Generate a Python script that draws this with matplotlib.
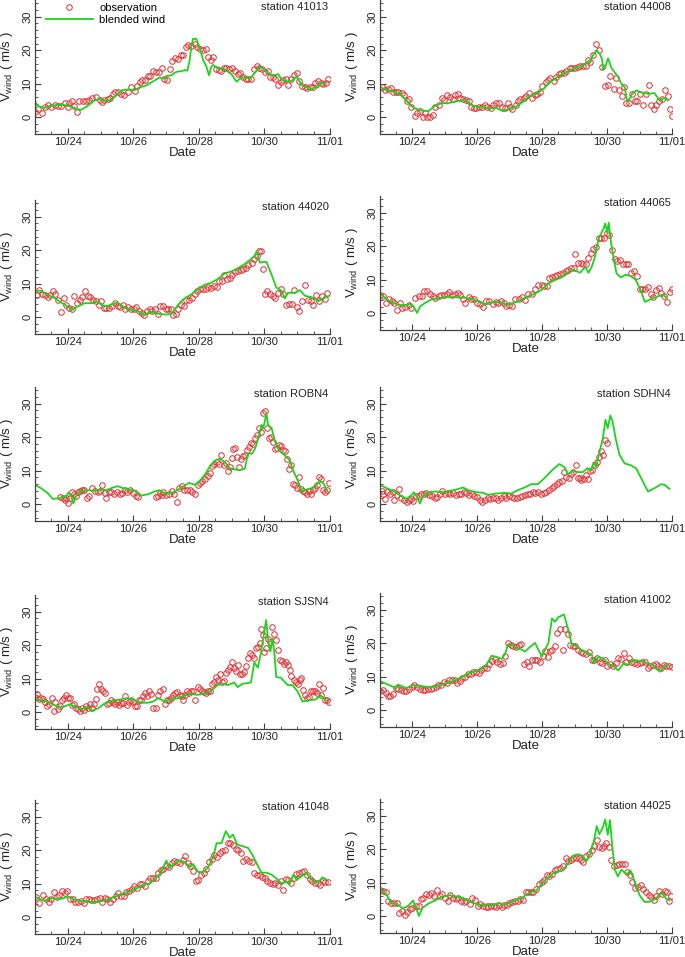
import numpy as np
import matplotlib
matplotlib.use('Agg')
from matplotlib import pyplot as plt
from matplotlib.ticker import MultipleLocator

plt.rcParams['font.family'] = ['Liberation Sans', 'DejaVu Sans']
plt.rcParams['mathtext.fontset'] = 'custom'
plt.rcParams['mathtext.rm'] = 'Liberation Sans'
plt.rcParams['mathtext.it'] = 'Liberation Sans:italic'

# time is in days after 10/23 00:00
date_ticks = [1, 3, 5, 7, 9]
date_labels = ['10/24', '10/26', '10/28', '10/30', '11/01']

'''
station 41013
'''
obs_t_41013 = [0, 0.1, 0.2, 0.3, 0.4, 0.5, 0.6, 0.7, 0.8, 0.9,
               1.0, 1.05, 1.13, 1.2, 1.27, 1.35, 1.45, 1.55, 1.66, 1.75,
               1.86, 1.97, 2.03, 2.12, 2.22, 2.3, 2.37, 2.45, 2.53, 2.63,
               2.73, 2.83, 2.94, 3.04, 3.12, 3.19, 3.27, 3.35, 3.45, 3.52,
               3.6, 3.68, 3.78, 3.86, 3.94, 4.03, 4.11, 4.19, 4.27, 4.35,
               4.44, 4.52, 4.6, 4.67, 4.75, 4.87, 4.95, 5.03, 5.13, 5.21,
               5.28, 5.36, 5.43, 5.51, 5.6, 5.68, 5.76, 5.84, 5.92, 6.0,
               6.1, 6.18, 6.25, 6.35, 6.43, 6.5, 6.6, 6.68, 6.76, 6.84,
               6.93, 7.01, 7.1, 7.17, 7.25, 7.33, 7.41, 7.49, 7.57, 7.65,
               7.73, 7.81, 7.9, 7.98, 8.06, 8.14, 8.23, 8.31, 8.39, 8.47,
               8.55, 8.64, 8.72, 8.8, 8.88, 8.95]
obs_v_41013 = [1.7, 2.4, 1.4, 3, 3.8, 3.2, 3.7, 3.4, 3.4, 4.2,
               3.2, 4.2, 4.8, 3.4, 1.6, 4.9, 4.9, 5, 5.2, 5.6,
               6, 5.2, 4.6, 5.2, 5.4, 5.8, 6.9, 7.5, 7.5, 7,
               6.7, 7.5, 9.1, 7.9, 9.3, 10.5, 11.1, 11.1, 12.3, 12.3,
               13.7, 13.5, 13.5, 14.7, 11.3, 11, 14.3, 16.7, 17.8, 17.3,
               18.5, 18.5, 21.1, 21.5, 21.3, 22, 21, 20.5, 20, 20.5,
               18, 17, 18, 14.5, 14.1, 13.9, 14.8, 14.8, 14.3, 14.7,
               13.9, 12.9, 13.1, 12.1, 11.5, 11.5, 11.3, 14.5, 15.3, 14.6,
               14.3, 13.6, 13.9, 11.9, 11.9, 11.5, 9.7, 10.4, 11.1, 11.5,
               9.7, 11.3, 12.5, 13.1, 10.7, 9.4, 8.9, 8.7, 8.9, 9.1,
               10.1, 10.7, 10.1, 9.9, 10.3, 11.5]
mod_t_41013 = [0, 0.08, 0.29, 0.49, 0.7, 0.9, 1.1, 1.3, 1.4, 1.61,
               1.81, 1.97, 2.12, 2.27, 2.42, 2.63, 2.83, 3.04, 3.19, 3.39,
               3.6, 3.8, 3.92, 4.0, 4.16, 4.26, 4.37, 4.46, 4.57, 4.65,
               4.72, 4.77, 4.82, 4.92, 5.03, 5.13, 5.23, 5.31, 5.38, 5.43,
               5.59, 5.74, 5.84, 5.99, 6.15, 6.25, 6.4, 6.55, 6.71, 6.84,
               6.96, 7.12, 7.27, 7.42, 7.52, 7.68, 7.83, 7.98, 8.14, 8.29,
               8.39, 8.54, 8.64, 8.7, 8.85]
mod_v_41013 = [4.7, 3.4, 2.8, 3.4, 3.7, 3.6, 3.2, 2.4, 2.2, 3.4,
               5, 5.6, 5, 5, 6, 8, 8.3, 8.1, 8.9, 9.5,
               10.7, 11.9, 11.5, 12.3, 12.5, 13.3, 13.7, 13.7, 14.1, 13.9,
               17.1, 21.1, 23.4, 23.4, 20.5, 17.1, 15.1, 12.5, 15.1, 15.6,
               14.6, 14.6, 13.9, 12.9, 10.6, 11.5, 12.1, 11.5, 13.3, 15.1,
               14.6, 13.3, 12.3, 12.9, 11.3, 10.7, 10.9, 12.1, 9.6, 8.9,
               8.1, 8.9, 8.9, 10.1, 10.1]

'''
station 44008
'''
obs_t_44008 = [0.05, 0.15, 0.26, 0.33, 0.41, 0.49, 0.56, 0.67, 0.74, 0.82,
               0.9, 0.97, 1.08, 1.15, 1.23, 1.31, 1.38, 1.46, 1.54, 1.62,
               1.7, 1.81, 1.9, 1.98, 2.07, 2.15, 2.24, 2.32, 2.41, 2.48,
               2.56, 2.65, 2.73, 2.82, 2.89, 2.97, 3.06, 3.14, 3.23, 3.31,
               3.41, 3.49, 3.57, 3.67, 3.75, 3.85, 3.93, 4.0, 4.08, 4.18,
               4.26, 4.33, 4.43, 4.51, 4.59, 4.67, 4.77, 4.84, 4.92, 5.0,
               5.11, 5.18, 5.25, 5.35, 5.44, 5.52, 5.59, 5.66, 5.74, 5.85,
               5.93, 6.0, 6.1, 6.17, 6.26, 6.34, 6.41, 6.48, 6.58, 6.67,
               6.75, 6.85, 6.92, 7.03, 7.1, 7.2, 7.28, 7.36, 7.45, 7.51,
               7.59, 7.69, 7.77, 7.85, 7.93, 8.02, 8.1, 8.2, 8.29, 8.36,
               8.44, 8.51, 8.59, 8.68, 8.77, 8.87, 8.95, 8.99]
obs_v_44008 = [9, 8, 8.4, 8.6, 7.6, 7.4, 7.6, 7.2, 6.6, 4.8,
               5.4, 3.2, 0.5, 1.3, 2, 0.2, 1.2, 0, 0.2, 0.8,
               3, 3.6, 5.8, 5.2, 6.6, 6, 5.4, 6.6, 6.8, 5.8,
               5.4, 5.2, 5, 3, 2.8, 2.8, 3.2, 3, 3.6, 3.2,
               2.8, 3.6, 4.4, 4.2, 3, 2.8, 4.2, 3.2, 2.4, 3.8,
               4.8, 5.3, 5.8, 6.4, 7.2, 5.8, 6.6, 7, 7.6, 9.2,
               10.4, 11.2, 11.6, 10.8, 12, 12.8, 13.3, 13.2, 13.8, 14.6,
               14.8, 14.8, 15, 15.4, 15.2, 15.3, 17.2, 16.4, 18.6, 21.8,
               20, 15, 9.2, 9.6, 12.4, 8.4, 11.6, 8, 6.3, 9,
               4.3, 4.3, 6.8, 4.8, 4.8, 6.8, 3.6, 6.8, 9.6, 3.6,
               2.6, 3.8, 4.8, 5.4, 8, 6.2, 2.4, 0.4]
mod_t_44008 = [0, 0.2, 0.41, 0.62, 0.82, 1.03, 1.28, 1.49, 1.69, 1.9,
               2.1, 2.36, 2.62, 2.87, 3.13, 3.38, 3.59, 3.79, 4.0, 4.2,
               4.41, 4.62, 4.82, 5.03, 5.23, 5.44, 5.64, 5.85, 6.05, 6.21,
               6.36, 6.46, 6.56, 6.67, 6.77, 6.85, 6.87, 6.95, 7.03, 7.13,
               7.23, 7.33, 7.44, 7.54, 7.62, 7.69, 7.77, 7.9, 8.05, 8.26,
               8.46, 8.62, 8.77, 8.87]
mod_v_44008 = [9, 8.2, 7.6, 7, 4.8, 2.8, 2, 1.8, 3.4, 4.2,
               4.2, 4.8, 5.2, 3.4, 3, 2.6, 2.8, 1.8, 2.6, 3.2,
               4.6, 6.4, 7, 8.4, 10.4, 11.8, 13, 14, 14.8, 15,
               16.4, 16.2, 18.4, 20, 19, 17.2, 14.3, 15.2, 17.6, 14.8,
               13.4, 12.2, 10, 9, 4.8, 5.4, 7, 8, 7.4, 7,
               7.2, 5, 5.8, 5]

'''
station 44020
'''
obs_t_44020 = [0.05, 0.13, 0.21, 0.29, 0.39, 0.46, 0.54, 0.62, 0.7, 0.78,
               0.87, 0.95, 1.05, 1.13, 1.2, 1.28, 1.36, 1.44, 1.52, 1.61,
               1.69, 1.76, 1.87, 1.95, 2.02, 2.1, 2.17, 2.27, 2.35, 2.44,
               2.52, 2.58, 2.68, 2.76, 2.84, 2.93, 3.01, 3.09, 3.17, 3.25,
               3.33, 3.41, 3.5, 3.58, 3.66, 3.74, 3.82, 3.9, 3.99, 4.07,
               4.15, 4.21, 4.29, 4.37, 4.45, 4.54, 4.62, 4.7, 4.78, 4.87,
               4.95, 5.03, 5.13, 5.21, 5.29, 5.37, 5.45, 5.54, 5.6, 5.7,
               5.78, 5.86, 5.94, 6.02, 6.11, 6.19, 6.27, 6.35, 6.43, 6.51,
               6.61, 6.68, 6.76, 6.83, 6.89, 6.96, 7.01, 7.09, 7.17, 7.25,
               7.33, 7.41, 7.49, 7.57, 7.66, 7.74, 7.83, 7.9, 7.98, 8.06,
               8.14, 8.24, 8.33, 8.41, 8.49, 8.57, 8.67, 8.76, 8.84, 8.92]
obs_v_44020 = [6.6, 8.1, 6.8, 6.6, 6, 6.6, 7.9, 6.8, 5.2, 1.6,
               5.8, 3.6, 2.8, 2.6, 6.2, 4.2, 5.2, 6, 7.7, 6.2,
               6, 5.2, 4.8, 3.8, 4.8, 2.8, 2.8, 2.8, 3.4, 4.2,
               3.4, 3.2, 3.6, 2.4, 3, 2.4, 2.4, 3, 2, 1.2,
               0.8, 2, 2.6, 2, 2.6, 1, 3.4, 3.4, 2.6, 2.4,
               2.6, 0.8, 1, 2.6, 3.6, 3.4, 5.2, 5.2, 5.6, 6.8,
               7.9, 8.3, 8.5, 8.3, 8.9, 8.7, 9.3, 8.9, 10.9, 10.7,
               12.5, 11.3, 11.7, 12.5, 13.5, 13.9, 14.1, 14.3, 14.7, 15.5,
               16.3, 17.5, 18.3, 19.7, 19.9, 14.3, 6.8, 7.7, 7, 6.4,
               5.8, 7.3, 8.3, 6.8, 3.8, 4, 4, 8.1, 3.2, 2,
               4.8, 9.7, 5.2, 4.8, 3.8, 6.6, 5, 6.2, 5.4, 7.3]
mod_t_44020 = [0, 0.18, 0.39, 0.59, 0.8, 1.0, 1.13, 1.3, 1.51, 1.71,
               1.87, 2.02, 2.17, 2.38, 2.53, 2.68, 2.88, 3.04, 3.19, 3.34,
               3.5, 3.65, 3.8, 4.0, 4.16, 4.31, 4.46, 4.62, 4.77, 4.97,
               5.18, 5.38, 5.59, 5.79, 6.0, 6.2, 6.4, 6.61, 6.71, 6.76,
               6.86, 6.96, 7.06, 7.21, 7.36, 7.52, 7.62, 7.72, 7.93, 8.08,
               8.24, 8.44, 8.65, 8.85, 8.95]
mod_v_44020 = [7.9, 7.9, 6.6, 5.8, 4.4, 3.2, 2.2, 3.2, 4.2, 4.2,
               4.8, 3.8, 3.2, 4, 4.4, 3, 2.4, 2, 1.6, 0.6,
               1.6, 1.2, 1, 0.8, 1, 3, 4.8, 6, 6.8, 8.5,
               9.7, 10.3, 11.5, 13.1, 13.7, 14.7, 15.9, 17.5, 18.5, 19.7,
               16.3, 16.5, 16.5, 12.9, 8.9, 7.9, 5.6, 7.3, 7.3, 8.1,
               6.4, 6, 4.8, 6, 6.2]

'''
station 44065
'''
obs_t_44065 = [0, 0.1, 0.2, 0.28, 0.36, 0.44, 0.52, 0.62, 0.69, 0.77,
               0.88, 0.96, 1.08, 1.19, 1.29, 1.37, 1.46, 1.54, 1.62, 1.7,
               1.81, 1.89, 1.97, 2.06, 2.14, 2.23, 2.31, 2.39, 2.48, 2.56,
               2.62, 2.73, 2.81, 2.91, 3.0, 3.08, 3.16, 3.27, 3.37, 3.47,
               3.56, 3.64, 3.74, 3.81, 3.87, 3.97, 4.08, 4.16, 4.27, 4.37,
               4.46, 4.57, 4.67, 4.77, 4.88, 4.98, 5.05, 5.14, 5.22, 5.3,
               5.39, 5.47, 5.55, 5.63, 5.72, 5.8, 5.88, 5.97, 6.01, 6.09,
               6.18, 6.26, 6.34, 6.41, 6.49, 6.57, 6.65, 6.74, 6.82, 6.9,
               6.99, 7.07, 7.15, 7.24, 7.32, 7.4, 7.49, 7.57, 7.65, 7.74,
               7.82, 7.92, 8.01, 8.09, 8.18, 8.26, 8.34, 8.42, 8.51, 8.59,
               8.67, 8.76, 8.84, 8.93, 8.99]
obs_v_44065 = [5.4, 5.2, 3.2, 4.4, 3.8, 3, 1.1, 3.2, 1.5, 1.9,
               2.6, 1.7, 4.6, 5.2, 5.2, 6.6, 6.6, 5.6, 5.2, 4.6,
               5.2, 5.4, 5.4, 5.8, 6.2, 5.4, 5.8, 6, 5.4, 4.2,
               3.2, 4.8, 4.4, 4.2, 3, 2.8, 1.9, 3.8, 3.6, 2.8,
               3.4, 3.2, 3.6, 3, 2.1, 2.6, 2.3, 4.2, 4.2, 4.8,
               4, 5.8, 5.8, 7.2, 8.3, 8.3, 8.1, 8.1, 10.4, 10.7,
               11.1, 11.5, 11.7, 12.1, 12.6, 13, 13.4, 13.6, 17.7, 15,
               15, 14.6, 14.6, 16.4, 18, 19.3, 19.9, 22.6, 22.4, 22.4,
               24, 23.5, 18.9, 16.2, 15.6, 15.8, 14.6, 14.6, 14.6, 12.1,
               12.6, 11.1, 7.2, 7.2, 7.2, 7.9, 5.6, 4.8, 6.8, 7.4,
               6, 5.2, 3.4, 6.2, 7.2]
mod_t_44065 = [0, 0.15, 0.36, 0.57, 0.77, 0.93, 1.03, 1.14, 1.24, 1.41,
               1.6, 1.81, 2.02, 2.33, 2.64, 2.85, 3.06, 3.21, 3.37, 3.58,
               3.78, 3.94, 4.09, 4.3, 4.56, 4.77, 4.98, 5.18, 5.39, 5.6,
               5.75, 5.96, 6.17, 6.32, 6.43, 6.53, 6.63, 6.74, 6.89, 6.94,
               7.0, 7.05, 7.12, 7.21, 7.29, 7.42, 7.57, 7.73, 7.88, 8.04,
               8.16, 8.35, 8.55, 8.71, 8.84]
mod_v_44065 = [6.2, 4.6, 3.2, 2.6, 2.3, 2.8, 2.1, 0.1, 2.1, 3.2,
               4.2, 4.4, 4.8, 4.8, 4.6, 4.2, 3.6, 2.6, 3.2, 3.4,
               3, 2.6, 3, 3.8, 5, 5.8, 7, 8.9, 9.9, 10.7,
               12.1, 13, 12.1, 13.8, 12.1, 14, 17, 22.4, 25.2, 26.8,
               24.2, 27, 21.1, 15.8, 11.9, 10.7, 11.5, 11.1, 10, 6.8,
               3.4, 4.2, 5, 5.6, 4.6]

'''
station ROBN4
'''
obs_t_robn4 = [0.76, 0.85, 0.91, 0.95, 1.01, 1.07, 1.13, 1.19, 1.25, 1.31,
               1.38, 1.44, 1.5, 1.58, 1.66, 1.74, 1.82, 1.91, 1.99, 2.05,
               2.13, 2.17, 2.25, 2.33, 2.42, 2.5, 2.58, 2.66, 2.74, 2.82,
               2.91, 2.99, 3.07, 3.15, 3.68, 3.74, 3.8, 3.86, 3.92, 4.0,
               4.09, 4.17, 4.25, 4.33, 4.39, 4.47, 4.56, 4.64, 4.72, 4.8,
               4.88, 4.96, 5.03, 5.11, 5.19, 5.27, 5.33, 5.39, 5.45, 5.54,
               5.62, 5.68, 5.76, 5.82, 5.88, 5.94, 6.0, 6.04, 6.11, 6.17,
               6.23, 6.29, 6.35, 6.41, 6.47, 6.53, 6.6, 6.66, 6.72, 6.78,
               6.84, 6.9, 6.96, 7.02, 7.08, 7.15, 7.21, 7.27, 7.33, 7.39,
               7.45, 7.51, 7.57, 7.64, 7.7, 7.76, 7.8, 7.86, 7.92, 7.98,
               8.04, 8.1, 8.17, 8.23, 8.29, 8.35, 8.41, 8.47, 8.53, 8.59,
               8.65, 8.72, 8.78, 8.84, 8.9, 8.96]
obs_v_robn4 = [2.2, 1.8, 1.2, 2, 0.4, 2, 3.8, 3.2, 2.6, 3.6,
               4, 4.4, 4.2, 2, 2.4, 5, 4, 3.6, 4, 5.8,
               3.4, 1.8, 3.6, 3.6, 3.2, 3.8, 3.2, 3.4, 4.2, 3.8,
               4.2, 3.4, 2.6, 2.2, 2.2, 2.4, 3.4, 2.8, 3.6, 2.8,
               3.2, 4, 3, 0.8, 5, 5.4, 4.4, 4.2, 4.2, 3.8,
               3.2, 5.8, 6.2, 6.8, 7.6, 8.4, 9.2, 11.4, 12, 12.6,
               12, 14.6, 11.8, 12.2, 10, 11, 13.8, 16.5, 16.9, 14,
               11, 13.4, 14.4, 14.8, 16.2, 17, 18.3, 18, 19.7, 20.7,
               22.9, 21.7, 27.3, 27.9, 22.7, 19.7, 20.2, 18.5, 16.4, 16.8,
               17.7, 17.5, 16.2, 15.8, 13.6, 10.4, 11.6, 6, 5.6, 4.8,
               8, 4.6, 4, 3.8, 3.2, 4, 3.2, 4.2, 5, 5.8,
               8.2, 7.6, 4.4, 3.6, 4.2, 6.2]
mod_t_robn4 = [0, 0.18, 0.39, 0.54, 0.74, 0.95, 1.03, 1.11, 1.17, 1.27,
               1.41, 1.61, 1.81, 2.02, 2.17, 2.38, 2.53, 2.68, 2.88, 3.09,
               3.24, 3.45, 3.65, 3.8, 3.96, 4.11, 4.26, 4.41, 4.57, 4.7,
               4.87, 5.03, 5.18, 5.33, 5.48, 5.64, 5.79, 5.94, 6.1, 6.25,
               6.4, 6.5, 6.61, 6.71, 6.84, 6.91, 6.96, 7.01, 7.06, 7.11,
               7.22, 7.32, 7.47, 7.62, 7.78, 7.88, 8.03, 8.14, 8.29, 8.44,
               8.59, 8.7, 8.8, 8.92]
mod_v_robn4 = [5.8, 4.8, 3.3, 1.6, 1.8, 2.4, 3.6, 2.2, 0.2, 2.8,
               4, 4.2, 4, 4.4, 4.2, 5, 5.4, 4.8, 4.4, 4,
               2.6, 3, 3.8, 4.2, 3.2, 3.2, 3.8, 4.6, 5.6, 6.4,
               5.8, 7, 8.8, 11.2, 13, 13.6, 12.6, 10.8, 10.4, 10.2,
               10.6, 15.2, 15, 16.5, 20.7, 23.7, 22.7, 24.7, 27.1, 23.7,
               22.7, 18.7, 15.8, 14.6, 13, 10, 6.8, 3.8, 4.4, 4.8,
               5.8, 7, 6.2, 4]

'''
station SDHN4
'''
obs_t_sdhn4 = [0.05, 0.1, 0.15, 0.22, 0.3, 0.39, 0.44, 0.51, 0.59, 0.65,
               0.73, 0.82, 0.88, 0.96, 1.02, 1.1, 1.19, 1.27, 1.35, 1.43,
               1.51, 1.6, 1.68, 1.76, 1.84, 1.92, 2.0, 2.09, 2.17, 2.25,
               2.33, 2.42, 2.5, 2.58, 2.66, 2.74, 2.83, 2.91, 2.99, 3.07,
               3.15, 3.24, 3.32, 3.4, 3.48, 3.56, 3.65, 3.73, 3.81, 3.89,
               3.97, 4.06, 4.14, 4.22, 4.3, 4.38, 4.47, 4.55, 4.63, 4.71,
               4.79, 4.88, 4.96, 5.04, 5.12, 5.21, 5.29, 5.37, 5.45, 5.53,
               5.62, 5.68, 5.74, 5.82, 5.88, 5.95, 6.03, 6.09, 6.15, 6.21,
               6.28, 6.34, 6.4, 6.46, 6.54, 6.62, 6.69, 6.75, 6.81, 6.87,
               6.93, 6.99]
obs_v_sdhn4 = [4, 3.2, 1.6, 3.8, 3.2, 3.6, 1.2, 2.8, 4.6, 1.8,
               1.4, 0.8, 1.2, 1.6, 1, 2.6, 2.6, 3, 3.2, 3.4,
               2.8, 2.4, 1.8, 2.2, 3, 4, 3.2, 3.4, 3, 3.4,
               2.8, 3.2, 3.2, 3.8, 3.4, 2.8, 3, 2.4, 2.2, 1.2,
               0.6, 1.2, 1.8, 1.6, 2, 1.8, 1.2, 1.8, 2.4, 2,
               2.6, 2.2, 2, 1.8, 2.2, 2.4, 2.8, 3, 3.2, 3.6,
               3.4, 3.8, 3.2, 3.4, 3.6, 4.2, 4.8, 5.4, 6, 6.6,
               6.8, 9.6, 8, 7.8, 9, 9.6, 11.8, 7.8, 7.8, 7.2,
               7.6, 8.6, 7.4, 9.8, 10.2, 11.6, 12.6, 14.2, 15.8, 14.8,
               19.2, 18.2]
mod_t_sdhn4 = [0, 0.2, 0.41, 0.62, 0.82, 0.98, 1.04, 1.14, 1.23, 1.33,
               1.48, 1.74, 1.95, 2.15, 2.36, 2.56, 2.72, 2.97, 3.18, 3.33,
               3.59, 3.85, 4.05, 4.25, 4.46, 4.66, 4.87, 5.07, 5.33, 5.53,
               5.69, 5.79, 5.95, 6.1, 6.25, 6.4, 6.5, 6.58, 6.66, 6.76,
               6.87, 6.95, 7.02, 7.1, 7.17, 7.26, 7.38, 7.54, 7.74, 7.9,
               8.05, 8.26, 8.46, 8.67, 8.77, 8.92]
mod_v_sdhn4 = [5.8, 4.8, 4, 2.6, 1.6, 2.8, 3.6, 2.2, 0.2, 2.4,
               3.6, 3.8, 3.6, 4, 4.4, 5, 4.2, 3.6, 3.4, 2.8,
               3.2, 3.4, 3.2, 4.2, 5, 6, 6, 7.8, 10.4, 12,
               11, 9, 10, 9.6, 9.6, 10.8, 10, 12.4, 11.2, 15.3,
               19.8, 25.2, 22.7, 26.5, 24.7, 19.8, 14.8, 12.2, 11.6, 10.6,
               7.8, 3.8, 4.8, 6, 5.8, 4.6]

'''
station SJSN4
'''
obs_t_sjsn4 = [0, 0.07, 0.13, 0.19, 0.25, 0.31, 0.37, 0.44, 0.52, 0.58,
               0.62, 0.7, 0.76, 0.82, 0.88, 0.94, 1.0, 1.06, 1.12, 1.18,
               1.25, 1.31, 1.37, 1.43, 1.49, 1.55, 1.61, 1.67, 1.73, 1.79,
               1.85, 1.9, 1.95, 2.02, 2.08, 2.14, 2.2, 2.26, 2.32, 2.38,
               2.44, 2.5, 2.56, 2.62, 2.68, 2.74, 2.8, 2.87, 2.93, 2.99,
               3.05, 3.11, 3.17, 3.23, 3.29, 3.35, 3.41, 3.47, 3.53, 3.61,
               3.68, 3.76, 3.82, 3.9, 3.96, 4.02, 4.08, 4.16, 4.22, 4.28,
               4.34, 4.41, 4.47, 4.53, 4.59, 4.65, 4.71, 4.77, 4.83, 4.89,
               4.97, 5.03, 5.09, 5.15, 5.22, 5.28, 5.34, 5.4, 5.46, 5.52,
               5.58, 5.64, 5.71, 5.77, 5.83, 5.89, 5.95, 6.01, 6.07, 6.13,
               6.19, 6.25, 6.31, 6.37, 6.43, 6.49, 6.55, 6.61, 6.67, 6.73,
               6.8, 6.86, 6.9, 6.96, 7.0, 7.06, 7.1, 7.16, 7.22, 7.28,
               7.34, 7.4, 7.46, 7.53, 7.59, 7.65, 7.71, 7.77, 7.81, 7.89,
               7.95, 8.01, 8.07, 8.13, 8.19, 8.25, 8.31, 8.37, 8.43, 8.49,
               8.55, 8.61, 8.67, 8.73, 8.79, 8.85, 8.91, 8.97]
obs_v_sjsn4 = [4.6, 5.4, 4, 4.2, 4, 3.2, 2, 2.4, 4.2, 0.4,
               3.2, 1, 2, 3.6, 4.4, 5.2, 4.4, 4.2, 2.2, 2.6,
               1.4, 1, 0.4, 1.2, 0.8, 1.8, 1.4, 2.4, 1.2, 2.4,
               4, 7, 8.5, 7, 6.4, 5.6, 2.6, 2.8, 3.8, 3.2,
               2.4, 3, 2.2, 2.8, 2.8, 4.8, 2.2, 3, 3.6, 3,
               2, 2, 3.6, 3.6, 4.8, 5.6, 5, 6.4, 5.4, 1.4,
               1.4, 5.2, 6.4, 7, 2.4, 3.6, 3.6, 4.2, 5.2, 5.6,
               6, 5.2, 4.8, 3.6, 5.2, 6.2, 5.6, 6.4, 6.4, 3.8,
               7.5, 7, 6.2, 6, 5.6, 6.4, 6.2, 8.3, 9.1, 10.5,
               9.5, 11.3, 9.1, 9.3, 11.7, 12.7, 13.5, 14.9, 13.3, 12.3,
               14.1, 11.3, 11.5, 11.9, 13.7, 16.1, 17.7, 17.1, 16.1, 19.3,
               19.5, 20.7, 25, 23, 18.1, 19.1, 22, 20.9, 25.4, 23.4,
               21.6, 18.5, 15.5, 15.3, 14.5, 14.9, 14.1, 12.5, 10.9, 9.7,
               9.1, 8.5, 9.7, 10.1, 6.6, 5.2, 4.2, 4.6, 6.2, 6.4,
               6.4, 5.6, 8.3, 5.2, 7.1, 3.6, 3.8, 3.2]
mod_t_sjsn4 = [0, 0.2, 0.41, 0.66, 0.86, 1.07, 1.22, 1.42, 1.58, 1.73,
               1.93, 2.09, 2.34, 2.59, 2.79, 3.0, 3.2, 3.41, 3.61, 3.76,
               3.96, 4.16, 4.36, 4.56, 4.77, 4.97, 5.17, 5.37, 5.57, 5.73,
               5.88, 5.98, 6.08, 6.18, 6.33, 6.49, 6.59, 6.69, 6.8, 6.88,
               6.98, 7.05, 7.12, 7.18, 7.25, 7.3, 7.36, 7.5, 7.71, 7.86,
               8.01, 8.16, 8.36, 8.56, 8.72, 8.87]
mod_v_sjsn4 = [3.6, 3.6, 3, 1.8, 1.6, 2.4, 1.6, 1, 1.6, 0.4,
               1.2, 2.4, 3.4, 3.8, 4.2, 3.8, 3, 2.8, 3.2, 4.2,
               3.2, 3.8, 4.2, 5, 5.4, 5.2, 5.6, 6.4, 8.1, 8.5,
               8.1, 8.5, 8.9, 7.5, 8.5, 8.7, 8.9, 14.9, 13.3, 17.1,
               23, 27.5, 21.1, 18.1, 22, 18.1, 10.5, 10.3, 8.1, 8.1,
               6.2, 3.2, 3.6, 3.8, 5, 3.6]

'''
station 41002
'''
obs_t_41002 = [0, 0.08, 0.18, 0.26, 0.32, 0.4, 0.48, 0.57, 0.65, 0.73,
               0.81, 0.9, 0.98, 1.06, 1.14, 1.23, 1.31, 1.39, 1.47, 1.56,
               1.64, 1.72, 1.8, 1.88, 1.97, 2.05, 2.13, 2.21, 2.3, 2.38,
               2.46, 2.54, 2.63, 2.71, 2.79, 2.87, 2.96, 3.04, 3.12, 3.2,
               3.29, 3.37, 3.45, 3.53, 3.62, 3.7, 3.78, 3.86, 3.94, 4.03,
               4.11, 4.19, 4.27, 4.36, 4.44, 4.52, 4.6, 4.69, 4.77, 4.85,
               4.93, 5.02, 5.1, 5.18, 5.25, 5.3, 5.39, 5.47, 5.55, 5.63,
               5.71, 5.79, 5.85, 5.94, 6.02, 6.1, 6.18, 6.27, 6.35, 6.44,
               6.52, 6.6, 6.68, 6.77, 6.85, 6.93, 7.01, 7.09, 7.18, 7.26,
               7.34, 7.42, 7.51, 7.59, 7.67, 7.75, 7.84, 7.92, 8.0, 8.08,
               8.17, 8.25, 8.33, 8.42, 8.5, 8.58, 8.66, 8.74, 8.83, 8.91,
               8.99]
obs_v_41002 = [5.8, 6, 5.2, 4.4, 4.4, 4.8, 6.6, 6.4, 6, 5.6,
               5.6, 6.4, 7, 7.5, 7, 6.2, 6, 6, 6.2, 6.4,
               6.6, 7, 7.5, 7.5, 8.3, 8.1, 8.9, 8.9, 8.9, 8.1,
               8.7, 9.5, 9.9, 10.7, 10.9, 11.3, 11.5, 11.1, 11.9, 12.7,
               12.7, 13.7, 14.7, 15.3, 14.5, 13.9, 14.1, 16.1, 20.1, 19.5,
               19.3, 18.9, 19.5, 19.7, 13.7, 14.3, 13.3, 14.9, 15.1, 14.9,
               14.3, 16.1, 17.7, 15.9, 17.7, 18.1, 19.1, 23, 24.2, 18.1,
               24.2, 22.8, 19.5, 19.1, 19.1, 18.1, 17.3, 17.1, 16.9, 17.3,
               14.9, 14.9, 15.7, 14.5, 14.1, 14.9, 13.3, 13.9, 13.3, 14.1,
               15.7, 15.3, 17.1, 14.3, 15.7, 14.5, 14.1, 13.9, 14.1, 14.5,
               14.5, 12.5, 13.3, 13.5, 13.9, 13.1, 12.7, 13.5, 13.1, 13.3,
               12.9]
mod_t_41002 = [0, 0.19, 0.4, 0.49, 0.55, 0.65, 0.81, 1.01, 1.23, 1.43,
               1.64, 1.85, 2.05, 2.26, 2.47, 2.67, 2.88, 3.09, 3.29, 3.44,
               3.59, 3.75, 3.85, 3.95, 4.06, 4.21, 4.37, 4.47, 4.62, 4.78,
               4.88, 4.99, 5.09, 5.19, 5.3, 5.39, 5.5, 5.67, 5.81, 5.91,
               6.07, 6.22, 6.37, 6.53, 6.6, 6.73, 6.88, 7.04, 7.19, 7.35,
               7.51, 7.66, 7.77, 7.92, 8.07, 8.23, 8.38, 8.54, 8.64, 8.74,
               8.85]
mod_v_41002 = [8.7, 7.9, 7, 6.4, 7.7, 7.3, 6.6, 7.5, 7.3, 7,
               7, 7.5, 8.1, 8.7, 9.7, 10.7, 11.5, 12.1, 13.7, 16.3,
               15.9, 15.3, 16.7, 19.7, 19.5, 18.5, 18.1, 17.5, 18.9, 20.1,
               18.1, 16.1, 18.1, 20.1, 27.4, 26.4, 27.8, 28.6, 23.8, 19.7,
               19.1, 17.7, 17.3, 16.5, 14.1, 15.9, 15.5, 13.9, 13.1, 11.9,
               14.1, 13.5, 15.1, 14.9, 14.5, 14.1, 13.7, 12.1, 11.5, 12.9,
               13.5]

'''
station 41048
'''
obs_t_41048 = [0.03, 0.13, 0.23, 0.34, 0.42, 0.5, 0.58, 0.66, 0.74, 0.83,
               0.91, 0.99, 1.07, 1.15, 1.23, 1.31, 1.4, 1.48, 1.56, 1.64,
               1.72, 1.8, 1.89, 1.97, 2.05, 2.13, 2.21, 2.29, 2.38, 2.46,
               2.54, 2.62, 2.7, 2.78, 2.86, 2.95, 3.03, 3.11, 3.19, 3.27,
               3.35, 3.44, 3.52, 3.6, 3.68, 3.76, 3.84, 3.92, 4.01, 4.09,
               4.17, 4.25, 4.33, 4.41, 4.5, 4.58, 4.66, 4.74, 4.82, 4.9,
               4.98, 5.07, 5.15, 5.23, 5.31, 5.39, 5.47, 5.55, 5.64, 5.72,
               5.8, 5.88, 5.96, 6.04, 6.12, 6.2, 6.28, 6.36, 6.44, 6.53,
               6.61, 6.69, 6.77, 6.85, 6.93, 7.01, 7.09, 7.17, 7.25, 7.33,
               7.41, 7.49, 7.57, 7.65, 7.73, 7.81, 7.89, 7.97, 8.05, 8.14,
               8.22, 8.3, 8.38, 8.46, 8.54, 8.62, 8.7, 8.78, 8.86, 8.94]
obs_v_41048 = [5.9, 4.3, 6.7, 5.3, 4.7, 5.5, 7.5, 5.9, 6.7, 7.9,
               7.3, 7.7, 5.3, 5.3, 4.5, 4.5, 4.9, 4.3, 5.3, 5.5,
               5.1, 5.1, 5.5, 5.7, 4.7, 5.7, 5.3, 4.7, 5.3, 6.3,
               7.1, 6.3, 6.3, 7.5, 7.7, 8.5, 9.3, 8.7, 9.9, 9.9,
               9.3, 10.7, 11.7, 11.7, 11.7, 13.3, 14.1, 14.3, 15.3, 14.9,
               16.1, 16.7, 16.5, 16.1, 17.1, 18.3, 16.1, 15.3, 13.9, 10.7,
               11.1, 12.7, 13.1, 14.3, 16.5, 17.5, 18.7, 17.9, 19.3, 19.9,
               20.1, 22.3, 22.3, 21.5, 20.3, 20.1, 19.1, 16.9, 17.5, 16.9,
               16.5, 13.3, 12.7, 12.7, 11.9, 11.7, 10.7, 10.1, 9.9, 10.1,
               9.7, 10.7, 8.1, 11.5, 11.1, 10.1, 11.7, 12.9, 13.1, 13.5,
               13.9, 12.7, 11.5, 10.7, 10.3, 10.1, 9.7, 10.7, 10.5, 10.5]
mod_t_41048 = [0, 0.13, 0.29, 0.44, 0.64, 0.8, 1.0, 1.15, 1.36, 1.61,
               1.87, 2.07, 2.27, 2.48, 2.68, 2.88, 3.09, 3.29, 3.5, 3.7,
               3.85, 4.01, 4.11, 4.26, 4.41, 4.57, 4.72, 4.82, 4.98, 5.13,
               5.28, 5.43, 5.54, 5.69, 5.82, 5.94, 6.04, 6.17, 6.3, 6.5,
               6.65, 6.78, 6.91, 7.06, 7.22, 7.37, 7.52, 7.68, 7.76, 7.88,
               7.98, 8.14, 8.27, 8.39, 8.54, 8.64, 8.77, 8.88]
mod_v_41048 = [6.1, 5.5, 4.9, 5.7, 5.5, 5.5, 6.1, 5.5, 4.9, 4.7,
               4.5, 4.9, 5.5, 6.3, 7.1, 7.7, 8.5, 9.7, 10.1, 11.7,
               13.5, 16.9, 14.7, 16.1, 16.9, 16.5, 14.9, 15.9, 13.5, 13.5,
               14.9, 17.9, 22.1, 22.1, 25.7, 23.7, 24.7, 21.7, 21.3, 20.7,
               18.3, 15.7, 13.3, 13.3, 12.7, 11.5, 10.1, 10.7, 9.7, 12.7,
               11.1, 12.3, 13.3, 11.7, 10.5, 10.5, 11.9, 11.3]

'''
station 44025
'''
obs_t_44025 = [0, 0.1, 0.18, 0.26, 0.34, 0.43, 0.51, 0.59, 0.67, 0.76,
               0.84, 0.92, 1.0, 1.1, 1.19, 1.25, 1.33, 1.41, 1.5, 1.57,
               1.66, 1.76, 1.84, 1.92, 2.0, 2.09, 2.17, 2.25, 2.33, 2.41,
               2.5, 2.58, 2.66, 2.76, 2.84, 2.93, 3.01, 3.09, 3.17, 3.26,
               3.34, 3.42, 3.5, 3.59, 3.67, 3.75, 3.83, 3.91, 3.99, 4.07,
               4.16, 4.24, 4.32, 4.41, 4.49, 4.57, 4.65, 4.73, 4.81, 4.9,
               4.98, 5.06, 5.14, 5.22, 5.31, 5.39, 5.47, 5.55, 5.63, 5.72,
               5.8, 5.88, 5.96, 6.04, 6.13, 6.21, 6.27, 6.35, 6.44, 6.52,
               6.6, 6.68, 6.76, 6.85, 6.91, 6.97, 7.05, 7.13, 7.21, 7.3,
               7.38, 7.46, 7.54, 7.62, 7.7, 7.78, 7.86, 7.95, 8.03, 8.11,
               8.19, 8.28, 8.36, 8.44, 8.52, 8.61, 8.69, 8.77, 8.85, 8.91,
               8.97]
obs_v_44025 = [7.9, 7.5, 7.1, 4.7, 4.1, 4.1, 3.9, 0.9, 1.7, 0.3,
               1.3, 2.1, 2.5, 3.1, 3.1, 5.1, 5.3, 6.7, 6.3, 6.9,
               5.9, 7.7, 6.1, 6.5, 5.5, 4.7, 6.3, 5.5, 5.1, 5.5,
               4.5, 4.3, 4.7, 3.7, 5.3, 4.9, 3.1, 3.7, 3.1, 2.7,
               2.9, 3.1, 3.1, 2.7, 3.3, 2.9, 3.3, 3.3, 3.9, 4.3,
               4.5, 4.5, 5.1, 4.9, 7.1, 7.1, 7.1, 7.3, 8.1, 9.7,
               10.1, 10.9, 12.3, 12.1, 12.5, 13.7, 14.1, 14.3, 14.9, 17.3,
               16.5, 16.7, 17.5, 17.3, 17.3, 16.9, 16.3, 18.1, 18.5, 19.7,
               20.9, 22.7, 20.7, 20.5, 21.1, 21.9, 20.7, 16.9, 14.9, 15.3,
               15.7, 15.5, 15.7, 13.1, 12.3, 10.3, 8.3, 8.7, 9.3, 8.1,
               7.3, 6.3, 5.7, 4.9, 5.9, 7.5, 6.7, 7.5, 7.3, 4.7,
               5.9]
mod_t_44025 = [0, 0.2, 0.35, 0.51, 0.71, 0.87, 1.02, 1.12, 1.2, 1.31,
               1.48, 1.69, 1.89, 2.15, 2.35, 2.56, 2.76, 2.97, 3.17, 3.33,
               3.48, 3.64, 3.79, 4.0, 4.2, 4.41, 4.61, 4.82, 5.02, 5.23,
               5.43, 5.64, 5.79, 5.95, 6.1, 6.25, 6.35, 6.48, 6.61, 6.68,
               6.76, 6.86, 6.94, 7.02, 7.09, 7.15, 7.24, 7.33, 7.44, 7.6,
               7.72, 7.85, 8.0, 8.15, 8.31, 8.51, 8.67, 8.82, 8.92]
mod_v_44025 = [8.1, 6.5, 3.9, 3.7, 2.3, 3.1, 4.7, 2.3, 0.1, 2.5,
               3.7, 4.7, 5.7, 6.3, 5.9, 5.5, 4.3, 3.7, 3.1, 3.7,
               3.3, 3.9, 3.5, 3.9, 4.9, 5.7, 7.1, 7.7, 10.1, 12.1,
               13.3, 13.7, 15.7, 18.1, 18.5, 18.1, 16.3, 18.5, 23.3, 26.9,
               24.5, 26.3, 28.9, 24.3, 28.7, 21.7, 13.9, 11.9, 13.9, 12.5,
               13.7, 10.3, 6.3, 4.3, 4.3, 5.3, 7.1, 5.3, 4.7]

stations = [
    ('41013', obs_t_41013, obs_v_41013, mod_t_41013, mod_v_41013),
    ('44008', obs_t_44008, obs_v_44008, mod_t_44008, mod_v_44008),
    ('44020', obs_t_44020, obs_v_44020, mod_t_44020, mod_v_44020),
    ('44065', obs_t_44065, obs_v_44065, mod_t_44065, mod_v_44065),
    ('ROBN4', obs_t_robn4, obs_v_robn4, mod_t_robn4, mod_v_robn4),
    ('SDHN4', obs_t_sdhn4, obs_v_sdhn4, mod_t_sdhn4, mod_v_sdhn4),
    ('SJSN4', obs_t_sjsn4, obs_v_sjsn4, mod_t_sjsn4, mod_v_sjsn4),
    ('41002', obs_t_41002, obs_v_41002, mod_t_41002, mod_v_41002),
    ('41048', obs_t_41048, obs_v_41048, mod_t_41048, mod_v_41048),
    ('44025', obs_t_44025, obs_v_44025, mod_t_44025, mod_v_44025),
]

'''
layout in pixels (figure is 685 x 957)
'''
W, H = 685, 957
col_x = [35, 380]
col_w = [295, 292]
row_top = [[0, 0], [200, 196], [387, 387], [595, 593], [800, 799]]
ax_h = 134

obs_color = '#e2393b'
mod_color = '#1cd41c'
axis_color = '#404040'

fig = plt.figure(figsize=(W / 100, H / 100), dpi=100)

for i, (name, ot, ov, mt, mv) in enumerate(stations):
    r, c = i // 2, i % 2
    top = row_top[r][c]
    ax = fig.add_axes([col_x[c] / W, 1 - (top + ax_h) / H, col_w[c] / W, ax_h / H])

    ax.plot(ot, ov, 'o', mfc='none', mec=obs_color, ms=4, mew=0.75,
            label='observation')
    ax.plot(mt, mv, '-', color=mod_color, lw=1.3, label='blended wind')

    ax.set_xlim(0, 9)
    ax.set_ylim(-5, 35)
    ax.set_xticks(date_ticks)
    ax.set_xticklabels(date_labels)
    ax.xaxis.set_minor_locator(MultipleLocator(0.5))
    ax.set_yticks([0, 10, 20, 30])
    ax.yaxis.set_minor_locator(MultipleLocator(2))

    for s in ['top', 'right']:
        ax.spines[s].set_visible(False)
    for s in ['left', 'bottom']:
        ax.spines[s].set_color(axis_color)
        ax.spines[s].set_linewidth(0.9)

    ax.tick_params(which='both', direction='in', top=False, right=False,
                   color=axis_color)
    ax.tick_params(which='major', length=4, width=0.8, labelsize=8, pad=2,
                   labelcolor='#222222')
    ax.tick_params(which='minor', length=2, width=0.6)
    ax.tick_params(axis='y', labelrotation=90)
    for lab in ax.get_yticklabels():
        lab.set_va('center')

    ax.set_xlabel('Date', fontsize=9.5, color='#222222')
    ax.xaxis.set_label_coords(0.5, -0.095)
    ax.set_ylabel(r'V$_{\mathrm{wind}}$ ( m/s )', fontsize=9.5, color='#222222')
    ax.yaxis.set_label_coords(-0.068, 0.5)

    ax.text(0.995, 0.95, 'station ' + name, transform=ax.transAxes,
            ha='right', va='center', fontsize=8, color='#222222')

    if i == 0:
        ax.legend(loc='upper left', bbox_to_anchor=(0.037, 0.978),
                  frameon=False, fontsize=8, numpoints=1,
                  handlelength=4.2, handletextpad=0.6, labelspacing=0.2,
                  borderpad=0, borderaxespad=0)

plt.savefig('out.png', dpi=100)
